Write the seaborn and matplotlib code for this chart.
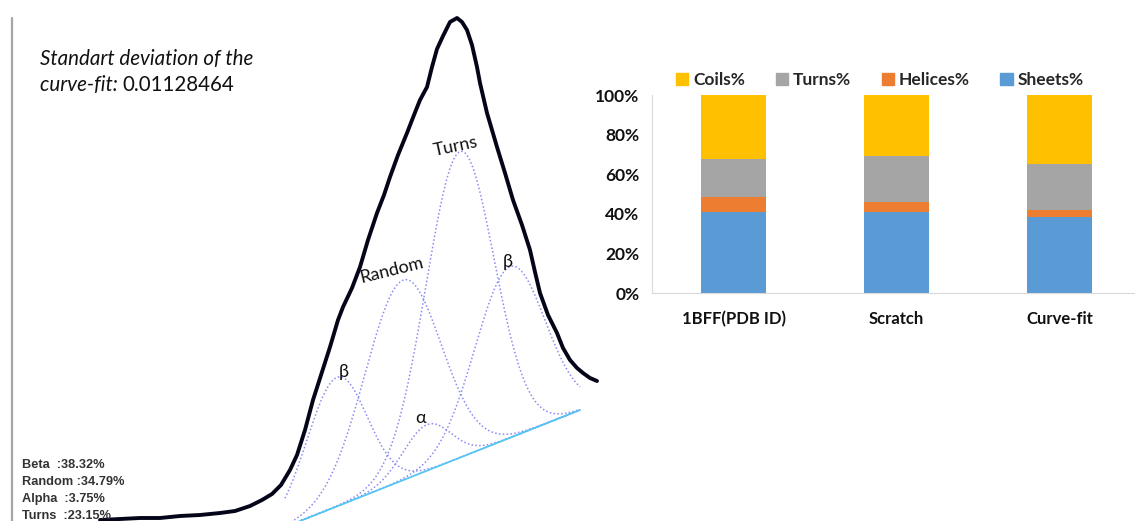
import numpy as np
import matplotlib
matplotlib.use('Agg')
import matplotlib.pyplot as plt
from matplotlib.patches import Patch
import seaborn as sns

spec_x = [100, 120, 140, 160, 180, 200, 220, 235, 250, 262, 272, 281, 290, 297, 305,
          313, 322, 330, 338, 343, 352, 360, 368, 377, 384, 390, 398, 407, 414, 420,
          427, 432, 437, 443, 450, 457, 462, 467, 472, 477, 480, 487, 497, 505, 513,
          522, 530, 535, 540, 548, 557, 563, 570, 577, 583, 590, 597]
spec_y = [1, 2, 3, 3, 5, 6, 8, 10, 15, 21, 27, 36, 51, 66, 91,
          121, 149, 174, 201, 214, 233, 254, 281, 308, 326, 344, 366, 388, 406, 421,
          434, 454, 472, 485, 499, 503, 499, 491, 476, 454, 438, 408, 374, 348, 321,
          296, 271, 249, 228, 206, 188, 173, 161, 153, 148, 143, 140]

# fitted components (gaussians over a linear baseline)
comp_names = ['β', 'Random', 'α', 'Turns', 'β']
comp_center = [337, 403, 427, 460, 510]
comp_amp = [129, 200, 46, 306, 171]
comp_sigma = [30, 38, 24, 34, 35]
baseline_x = [300, 580]
baseline_y = [0, 111]

stats_lines = ['Beta  :38.32%', 'Random :34.79%', 'Alpha  :3.75%', 'Turns  :23.15%']

# ---- right panel: secondary structure content ----
categories = ['1BFF(PDB ID)', 'Scratch', 'Curve-fit']
sheets = [41.0, 41.0, 38.32]
helices = [7.3, 4.8, 3.75]
turns = [19.3, 23.3, 23.15]
coils = [32.4, 30.9, 34.78]

colors = {'Coils%': '#FFC000', 'Turns%': '#A5A5A5',
          'Helices%': '#ED7D31', 'Sheets%': '#5B9BD5'}

sns.set_style('white')
plt.rcParams['font.family'] = ['Lato', 'DejaVu Sans']

fig = plt.figure(figsize=(11.35, 5.21), dpi=100)

# left panel
ax = fig.add_axes([0, 0, 600 / 1135, 1])
ax.set_xlim(0, 600)
ax.set_ylim(0, 521)
ax.axis('off')

slope = (baseline_y[1] - baseline_y[0]) / (baseline_x[1] - baseline_x[0])
xx = np.linspace(285, baseline_x[1], 400)
base = baseline_y[0] + slope * (xx - baseline_x[0])
for c, a, s in zip(comp_center, comp_amp, comp_sigma):
    ax.plot(xx, base + a * np.exp(-(xx - c) ** 2 / (2 * s ** 2)),
            ls=(0, (1, 1.5)), color='#8a8af5', lw=1.1)
ax.plot(baseline_x, baseline_y, color='#55c6f2', lw=1.3)
sns.lineplot(x=spec_x, y=spec_y, ax=ax, color='#05051a', lw=2.8, sort=False)

ax.axvline(12, ymin=0, ymax=503 / 521, color='#a6a6a6', lw=1.6)

lab_pos = [(344, 149), (392, 251), (421, 103), (456, 375), (508, 259)]
lab_rot = [0, 14, 0, 12, 0]
for name, (px, py), r in zip(comp_names, lab_pos, lab_rot):
    ax.text(px, py, name, fontsize=13, rotation=r, ha='center', va='center',
            color='#111111')

ax.text(40, 462, 'Standart deviation of the', fontsize=14.8, style='italic',
        va='center', color='#111111')
t = ax.text(40, 436, 'curve-fit: ', fontsize=14.8, style='italic',
            va='center', color='#111111')
ax.annotate('0.01128464', xycoords=t, xy=(1, 0.5), va='center', fontsize=14.8,
            color='#111111')

for i, line in enumerate(stats_lines):
    ax.text(22, 56 - i * 17, line, fontsize=9.2, fontweight='bold', va='center',
            family=['Liberation Sans'], color='#333333')

# right panel: stacked bars drawn as cumulative totals
axr = fig.add_axes([652 / 1135, 228 / 521, 489 / 1135, 198 / 521])
cum = np.cumsum([sheets, helices, turns, coils], axis=0)
stacks = [('Coils%', cum[3]), ('Turns%', cum[2]), ('Helices%', cum[1]), ('Sheets%', cum[0])]
for name, vals in stacks:
    sns.barplot(x=categories, y=vals, color=colors[name], width=0.4,
                saturation=1, ax=axr, order=categories, linewidth=0)

axr.set_xlim(-0.5, 2.5)
axr.set_ylim(0, 100)
axr.set_yticks(range(0, 101, 20))
axr.set_yticklabels([f'{v}%' for v in range(0, 101, 20)], fontsize=12.5,
                    fontweight='bold', color='#111111')
axr.set_xticks(range(3))
axr.set_xticklabels(categories, fontsize=12, fontweight='bold', color='#111111')
axr.set_xticks([-0.5, 0.5, 1.5], minor=True)
axr.tick_params(axis='x', which='major', length=0, pad=13)
axr.tick_params(axis='x', which='minor', length=5, color='#d0d0d0', width=1)
axr.tick_params(axis='y', length=4, color='#d0d0d0', width=1, pad=5)
for side in ['top', 'right']:
    axr.spines[side].set_visible(False)
for side in ['left', 'bottom']:
    axr.spines[side].set_color('#d9d9d9')
axr.set_xlabel('')
axr.set_ylabel('')

handles = [Patch(color=colors[k]) for k in colors]
fig.legend(handles, list(colors), loc='center', bbox_to_anchor=(880 / 1135, 441 / 521),
           ncol=4, frameon=False, handlelength=0.7, handleheight=0.7,
           handletextpad=0.3, columnspacing=1.75,
           prop={'weight': 'bold', 'size': 12.5})

fig.savefig('out.png', dpi=100)
